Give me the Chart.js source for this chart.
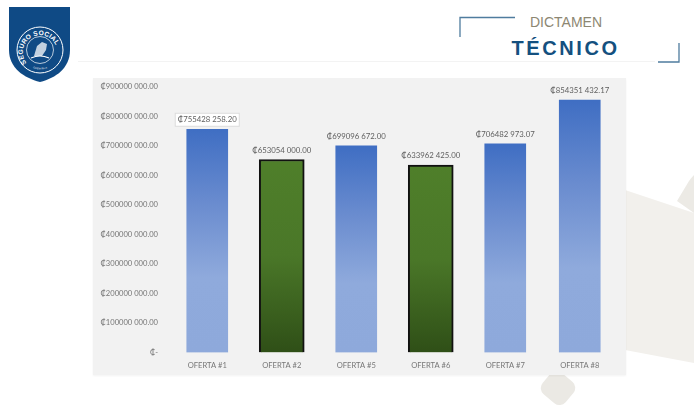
<!DOCTYPE html>
<html>
<head>
    <meta charset="UTF-8">
    <title>Dictamen Técnico</title>
    <script src="https://cdn.jsdelivr.net/npm/chart.js"></script>
    <style>
        html, body { margin: 0; padding: 0; background: #fff; overflow: hidden; }
        #page { position: absolute; left: 0; top: 0; width: 694px; height: 407px; }
        #panel { position: absolute; left: 93px; top: 78px; width: 533px; height: 297px; background: #f2f2f2; box-shadow: 0 1px 2px rgba(0,0,0,0.05); }
        #levels { position: absolute; left: 0; top: 0; }
    </style>
</head>
<body>
<div id="page">
    <svg width="694" height="407" style="position:absolute;left:0;top:0">
        <!-- background shapes -->
        <polygon points="625,190 694,213 694,363 625,350" fill="#f2f0ec"/>
        <path d="M677,201 L689,181 Q692,177 694,175 L694,213 Z" fill="#eceae5"/>
        <rect x="543" y="374" width="30" height="28" rx="8" transform="rotate(40 558 388)" fill="#ebe9e4"/>
        <!-- header -->
        <line x1="78" y1="61.5" x2="655" y2="61.5" stroke="#f3f3f3"/>
        <path d="M515,17.5 H460 V37" fill="none" stroke="#4f7c9e" stroke-width="1.3"/>
        <path d="M658,62 H679 V43" fill="none" stroke="#4f7c9e" stroke-width="1.3"/>
        <text x="566" y="26.5" text-anchor="middle" font-family="Liberation Sans" font-size="14" fill="#8d8772">DICTAMEN</text>
        <text x="565.5" y="55" text-anchor="middle" font-family="Liberation Sans" font-weight="bold" font-size="20" letter-spacing="2.6" fill="#14507f">TÉCNICO</text>
        <!-- logo -->
        <path d="M9,7 H70 V50 C70,68 56,78 40,82 C24,78 9,68 9,50 Z" fill="#0f4a85"/>
        <circle cx="40" cy="50" r="23" fill="none" stroke="#fff" stroke-width="1"/>
        <circle cx="40" cy="50" r="13.5" fill="none" stroke="#fff" stroke-width="0.7"/>
        <defs>
            <path id="ringTop" d="M26.5,63 A17.2,17.2 0 1 1 54,62.5"/>
            <path id="ringBottom" d="M33,68 A19,19 0 0 0 48,68"/>
        </defs>
        <text font-family="Liberation Sans" font-weight="bold" font-size="6.6" letter-spacing="0.2" fill="#fff"><textPath href="#ringTop">SEGURO SOCIAL</textPath></text>
        <text font-family="Liberation Sans" font-size="2.4" fill="#fff"><textPath href="#ringBottom">COSTA RICA</textPath></text>
        <path d="M34,56 L37,46 L42,42 L47,44 L46,50 L42,56 Z" fill="#fff" fill-opacity="0.75"/>
        <path d="M31,58 Q40,54 49,58" fill="none" stroke="#fff" stroke-width="1.2"/>
    </svg>
    <div id="panel"><canvas id="levels" width="533" height="297"></canvas></div>
</div>
<script>
    const categories = ['OFERTA #1', 'OFERTA #2', 'OFERTA #5', 'OFERTA #6', 'OFERTA #7', 'OFERTA #8'];
    const blueValues = [755428258.20, null, 699096672.00, null, 706482973.07, 854351432.17];
    const greenValues = [null, 653054000.00, null, 633962425.00, null, null];

    // groups only the last three integer digits: 755428 258.20
    function colones(value) {
        const parts = value.toFixed(2).split('.');
        const whole = parts[0];
        return '₡' + whole.slice(0, -3) + ' ' + whole.slice(-3) + '.' + parts[1];
    }

    function barGradient(stops) {
        return function (context) {
            const chart = context.chart;
            if (!chart.chartArea || context.raw === null || context.raw === undefined) {
                return stops[0];
            }
            const yScale = chart.scales.y;
            const g = chart.ctx.createLinearGradient(0, yScale.getPixelForValue(context.raw), 0, yScale.getPixelForValue(0));
            stops.forEach((color, i) => g.addColorStop(i / (stops.length - 1), color));
            return g;
        };
    }

    const labelFont = '7.8px Lato';

    // value labels above each bar, the first one sits in a white box
    const valueLabels = {
        id: 'valueLabels',
        afterDatasetsDraw(chart) {
            const ctx = chart.ctx;
            ctx.save();
            ctx.font = labelFont;
            ctx.textAlign = 'center';
            ctx.textBaseline = 'middle';
            chart.data.datasets.forEach((dataset, d) => {
                chart.getDatasetMeta(d).data.forEach((bar, i) => {
                    const value = dataset.data[i];
                    if (value === null) return;
                    const y = bar.y - 9.5;
                    if (i === 0) {
                        ctx.fillStyle = '#ffffff';
                        ctx.strokeStyle = '#dcdcdc';
                        ctx.fillRect(bar.x - 32, y - 6.5, 64, 13);
                        ctx.strokeRect(bar.x - 32, y - 6.5, 64, 13);
                    }
                    ctx.fillStyle = '#5f5f5f';
                    ctx.fillText(colones(value), bar.x, y);
                });
            });
            ctx.restore();
        }
    };

    const config = {
        type: 'bar',
        data: {
            labels: categories,
            datasets: [{
                data: blueValues,
                barThickness: 41,
                backgroundColor: barGradient(['#3f6ec3', '#6a8ccf', '#8faadc', '#8ea9db']),
                borderWidth: 0
            }, {
                data: greenValues,
                barThickness: 45,
                backgroundColor: barGradient(['#4f7f2a', '#4a7728', '#2f4f17']),
                borderColor: '#111111',
                borderWidth: 2
            }]
        },
        options: {
            responsive: false,
            animation: false,
            layout: { padding: { top: 6, right: 9 } },
            plugins: { legend: { display: false }, tooltip: { enabled: false } },
            scales: {
                x: {
                    stacked: true,
                    grid: { display: false },
                    border: { display: false },
                    ticks: { font: { family: 'Lato', size: 7.6 }, color: '#777777', padding: 1, maxRotation: 0 },
                    afterFit(scale) { scale.height = 22.6; }
                },
                y: {
                    stacked: true,
                    min: 0,
                    max: 900000000,
                    grid: { display: false },
                    border: { display: false },
                    ticks: {
                        stepSize: 100000000,
                        font: { family: 'Lato', size: 7.6 },
                        color: '#777777',
                        padding: 4,
                        callback: value => value === 0 ? '₡-' : colones(value)
                    },
                    afterFit(scale) { scale.width = 77; }
                }
            }
        },
        plugins: [valueLabels]
    };

    window.chart = new Chart(document.getElementById('levels').getContext('2d'), config);
</script>
</body>
</html>
